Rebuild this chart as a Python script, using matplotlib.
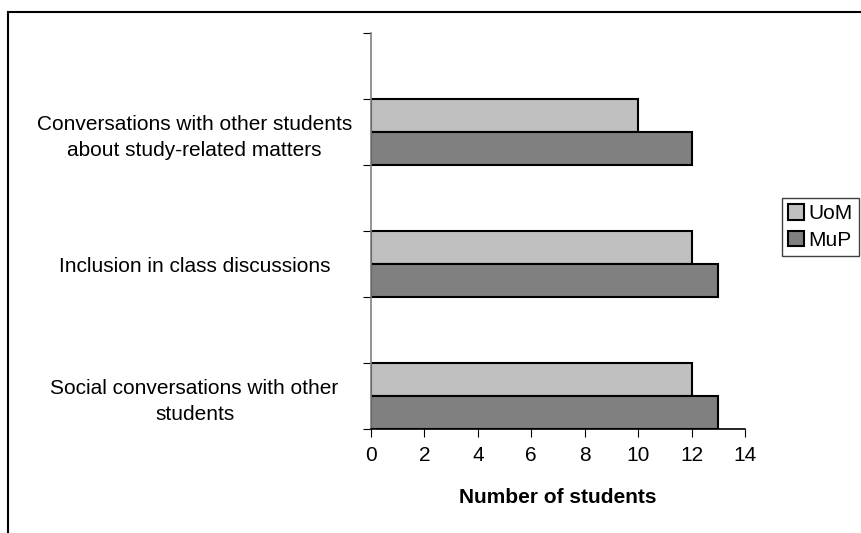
import matplotlib
matplotlib.use('Agg')
import matplotlib.pyplot as plt
from matplotlib.patches import Rectangle
import numpy as np

plt.rcParams['font.family'] = ['Liberation Sans', 'DejaVu Sans']

categories = ['Social conversations with other\nstudents',
              'Inclusion in class discussions',
              'Conversations with other students\nabout study-related matters']
uom = [12, 12, 10]
mup = [13, 13, 12]
series_names = ['UoM', 'MuP']
xticks = list(range(0, 15, 2))

fig = plt.figure(figsize=(8.62, 5.33), dpi=100)
ax = fig.add_axes([371 / 862, 1 - 429 / 533, 374 / 862, 396 / 533])

# each labelled group sits in its own slot, with an empty slot above it
pos = np.arange(len(categories)) * 2
h = 0.5
b1 = ax.barh(pos + h / 2, uom, height=h, color='#c0c0c0', edgecolor='black', linewidth=1.5)
b2 = ax.barh(pos - h / 2, mup, height=h, color='#808080', edgecolor='black', linewidth=1.5)

ax.set_xlim(0, 14)
ax.set_ylim(-0.5, len(categories) * 2 - 0.5)
ax.set_xticks(xticks)
ax.tick_params(axis='x', labelsize=15, length=6, direction='out', pad=6)
ax.set_xlabel('Number of students', fontsize=15, fontweight='bold', labelpad=17)

ax.set_yticks(np.arange(-0.5, len(categories) * 2, 1.0))
ax.set_yticklabels([])
ax.tick_params(axis='y', length=6, direction='out')
ax.set_yticks(pos, minor=True)
ax.set_yticklabels(categories, minor=True, fontsize=15, ha='center', linespacing=1.45)
ax.tick_params(axis='y', which='minor', length=0, pad=127)

for s in ['top', 'right']:
    ax.spines[s].set_visible(False)
ax.spines['left'].set_color('#808080')
ax.spines['left'].set_linewidth(1.2)
ax.spines['bottom'].set_linewidth(1.2)

leg = fig.legend([b1, b2], series_names, loc='upper left',
                 bbox_to_anchor=(782 / 862, 1 - 198 / 533),
                 fontsize=15, fancybox=False, framealpha=1,
                 handlelength=0.75, handleheight=0.75, handletextpad=0.2,
                 borderpad=0.3, labelspacing=0.35, borderaxespad=0)
leg.get_frame().set_edgecolor('#404040')
leg.get_frame().set_linewidth(1)

# outer chart border
fig.patches.append(Rectangle((8 / 862, -0.1), 1.2, 1 - 12 / 533 + 0.1,
                             transform=fig.transFigure, fill=False,
                             edgecolor='black', linewidth=1.5))

fig.savefig('out.png', dpi=100)
